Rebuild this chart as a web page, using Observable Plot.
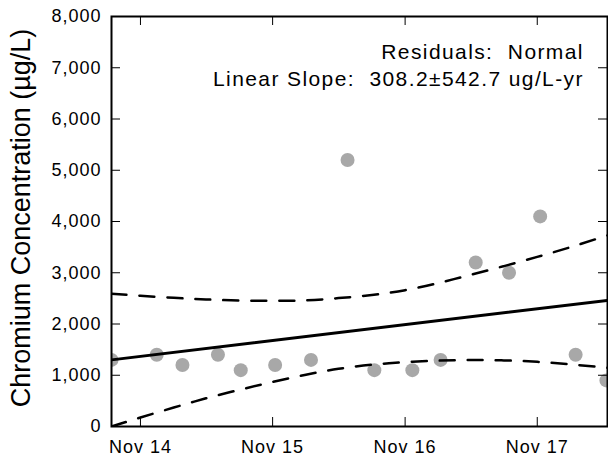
<!DOCTYPE html>
<html><head><meta charset="utf-8">
<script src="https://cdn.jsdelivr.net/npm/d3@7"></script>
<script src="https://cdn.jsdelivr.net/npm/@observablehq/plot@0.6"></script>
<style>
body{margin:0;background:#fff;}
svg text{white-space:pre;}
g[aria-label="x-axis tick label"] text{letter-spacing:1px;}
g[aria-label="y-axis tick label"] text{letter-spacing:1px;}
</style></head><body><div id="chart"></div>
<script>
// Sample dates and chromium concentrations (µg/L)
const sampleDates = ["2014-08-13","2014-12-16","2015-02-25","2015-06-03","2015-08-05","2015-11-08","2016-02-15","2016-05-26","2016-08-08","2016-11-21","2017-02-07","2017-05-15","2017-08-15","2017-11-09","2018-02-15","2018-05-11"];
const chromium = [1300,1400,1200,1400,1100,1200,1300,5200,1100,1100,1300,3200,3000,4100,1400,900];

// Linear trend (read at the ends of the plot)
const trendDates = ["2014-08-13","2018-05-14"];
const trendValues = [1300,2460];

// Confidence band
const bandDates = ["2014-08-13","2014-11-01","2015-02-01","2015-05-01","2015-08-01","2015-11-01","2016-02-01","2016-05-01","2016-08-01","2016-11-01","2017-02-01","2017-05-01","2017-08-01","2017-11-01","2018-02-01","2018-05-14"];
const upperBand = [2590,2550,2510,2480,2457,2452,2462,2505,2565,2660,2800,2960,3130,3310,3500,3730];
const lowerBand = [0,175,370,550,715,870,1010,1125,1205,1255,1285,1298,1290,1262,1212,1145];

// Axes
const xDomain = ["2014-08-13","2018-05-14"];
const xTickDates = ["2014-11-01","2015-11-01","2016-11-01","2017-11-01"];
const yTickValues = [0,1000,2000,3000,4000,5000,6000,7000,8000];
const yLabel = "Chromium Concentration (µg/L)";
const annotationLines = ["Residuals:  Normal","Linear Slope:  308.2±542.7 ug/L-yr"];

const parse = d3.utcParse("%Y-%m-%d");
const samples = sampleDates.map((d,i)=>({date:parse(d), value:chromium[i]}));
const trend = trendDates.map((d,i)=>({date:parse(d), value:trendValues[i]}));
const upper = bandDates.map((d,i)=>({date:parse(d), value:upperBand[i]}));
const lower = bandDates.map((d,i)=>({date:parse(d), value:lowerBand[i]}));
const xTicks = xTickDates.map(parse);

const W=608, H=459, mL=111, mR=1, mT=16, mB=33;
const innerW=W-mL-mR, innerH=H-mT-mB, tickLen=9;

const chart = Plot.plot({
  width:W, height:H, marginLeft:mL, marginRight:mR, marginTop:mT, marginBottom:mB,
  style:{fontFamily:"'Liberation Sans', Arial, Helvetica, sans-serif", fontSize:"18px", color:"#000", background:"#fff", overflow:"visible"},
  x:{type:"utc", domain:xDomain.map(parse)},
  y:{domain:[0,8000]},
  marks:[
    Plot.dot(samples,{x:"date", y:"value", r:7, fill:"#a8a8a8", stroke:"none", clip:true}),
    Plot.line(upper,{x:"date", y:"value", stroke:"#000", strokeWidth:2.5, strokeDasharray:"15,13", curve:"natural", clip:true}),
    Plot.line(lower,{x:"date", y:"value", stroke:"#000", strokeWidth:2.5, strokeDasharray:"15,13", curve:"natural", clip:true}),
    Plot.line(trend,{x:"date", y:"value", stroke:"#000", strokeWidth:3, clip:true}),
    Plot.tickX(xTicks,{x:d=>d, insetTop:innerH-tickLen, stroke:"#000"}),
    Plot.tickX(xTicks,{x:d=>d, insetBottom:innerH-tickLen, stroke:"#000"}),
    Plot.tickY(yTickValues,{y:d=>d, insetRight:innerW-tickLen, stroke:"#000"}),
    Plot.tickY(yTickValues,{y:d=>d, insetLeft:innerW-tickLen, stroke:"#000"}),
    Plot.axisX({ticks:xTicks, tickFormat:d3.utcFormat("%b %y"), tickSize:0, tickPadding:14, label:null}),
    Plot.axisY({ticks:yTickValues, tickFormat:d3.format(","), tickSize:0, tickPadding:10, label:null}),
    Plot.text([yLabel],{frameAnchor:"left", rotate:-90, textAnchor:"middle", lineAnchor:"middle", dx:20.5-mL, dy:-3.5, fontSize:27, fill:"#000"}),
    Plot.text([annotationLines.join("\n")],{frameAnchor:"top-right", textAnchor:"end", lineAnchor:"top", lineHeight:1.32, dx:-23.6, dy:22.4, fontSize:21, fill:"#000"}),
    Plot.frame({stroke:"#000", strokeWidth:2})
  ]
});
document.getElementById("chart").appendChild(chart);
// widen the annotation text to match the reference's lettering width
chart.querySelectorAll("text").forEach(t => {
  if (t.textContent.includes("Residuals")) t.style.letterSpacing = "1.4px";
});
</script></body></html>
